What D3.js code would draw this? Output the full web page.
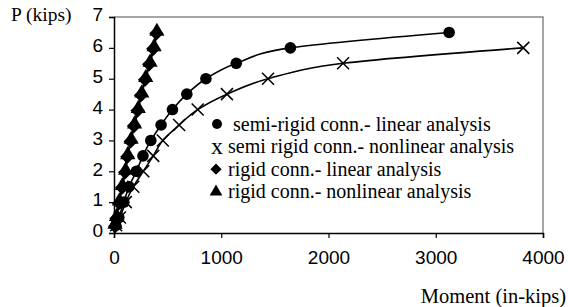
<!DOCTYPE html>
<html>
<head>
<meta charset="utf-8">
<script src="https://cdn.jsdelivr.net/npm/d3@7"></script>
<style>
  body { margin: 0; background: #fff; }
  svg { display: block; }
</style>
</head>
<body>
<div id="chart"></div>
<script>
// load steps (kips)
var loadSteps = [0.25, 0.5, 1, 1.5, 2, 2.5, 3, 3.5, 4, 4.5, 5, 5.5, 6, 6.5];

// moment (in-kips) for each series
var semiRigidLinear    = [16, 45, 92, 140, 208, 270, 343, 439, 545, 679, 857, 1140, 1645, 3125];
var semiRigidNonlinear = [20, 55, 110, 180, 273, 366, 455, 607, 780, 1053, 1436, 2136, 3816];
var rigidLinear        = [10, 23, 48, 75, 104, 124, 155, 186, 220, 252, 290, 328, 366, 395];
var rigidNonlinear     = [10, 24, 50, 78, 108, 128, 160, 192, 226, 259, 296, 336, 374, 400];

var seriesNames = [
  "semi-rigid conn.- linear analysis",
  "semi rigid conn.- nonlinear analysis",
  "rigid conn.- linear analysis",
  "rigid conn.- nonlinear analysis"
];

var xTicks = [0, 1000, 2000, 3000, 4000];
var yTicks = [0, 1, 2, 3, 4, 5, 6, 7];

//Set-up canvas
var svgWidth = 568;
var svgHeight = 307;
var margin = { top: 17, left: 114, right: 25, bottom: 74 };
var width = 543 - margin.left;
var height = 233 - margin.top;

var svg = d3.select("#chart")
  .append("svg")
  .attr("width", svgWidth)
  .attr("height", svgHeight);

var chartGroup = svg.append("g")
  .attr("transform", `translate(${margin.left}, ${margin.top})`);

var xScale = d3.scaleLinear().domain([0, 4000]).range([0, width]);
var yScale = d3.scaleLinear().domain([0, 7]).range([height, 0]);

// frame (top and right in grey)
chartGroup.append("path")
  .attr("d", `M0,0H${width}V${height}`)
  .attr("fill", "none")
  .attr("stroke", "#888")
  .attr("stroke-width", 1.5);

var bottomAxis = d3.axisBottom(xScale).tickValues(xTicks).tickFormat(d3.format("d"))
  .tickSize(5).tickPadding(13);
var leftAxis = d3.axisLeft(yScale).tickValues(yTicks).tickFormat(d3.format("d"))
  .tickSize(5).tickPadding(6);

var xAxis = chartGroup.append("g")
  .attr("transform", `translate(0, ${height})`)
  .call(bottomAxis);

var yAxis = chartGroup.append("g")
  .call(leftAxis);

[xAxis, yAxis].forEach(function(ax) {
  ax.select(".domain").attr("stroke", "#000").attr("stroke-width", 1.5);
  ax.selectAll(".tick line").attr("stroke", "#000").attr("stroke-width", 1.2);
  ax.selectAll(".tick text")
    .style("font-family", "'Liberation Sans', Arial, sans-serif")
    .style("font-size", "19px")
    .attr("fill", "#000");
});
yAxis.selectAll(".tick text").attr("dy", "0.2em");

function pointsOf(moments) {
  return moments.map(function(m, i) { return { m: m, p: loadSteps[i] }; });
}

var line = d3.line()
  .x(d => xScale(d.m))
  .y(d => yScale(d.p))
  .curve(d3.curveCardinal.tension(0));

var allSeries = [semiRigidLinear, semiRigidNonlinear, rigidLinear, rigidNonlinear];
allSeries.forEach(function(s) {
  chartGroup.append("path")
    .datum(pointsOf(s))
    .attr("d", line)
    .attr("fill", "none")
    .attr("stroke", "#000")
    .attr("stroke-width", 1.6);
});

// markers
chartGroup.selectAll()
  .data(pointsOf(semiRigidLinear))
  .enter()
  .append("circle")
  .attr("cx", d => xScale(d.m))
  .attr("cy", d => yScale(d.p))
  .attr("r", 5.8)
  .attr("fill", "#000");

chartGroup.selectAll()
  .data(pointsOf(semiRigidNonlinear))
  .enter()
  .append("path")
  .attr("transform", d => `translate(${xScale(d.m)}, ${yScale(d.p)})`)
  .attr("d", "M-6,-6L6,6M-6,6L6,-6")
  .attr("stroke", "#000")
  .attr("stroke-width", 1.5)
  .attr("fill", "none");

var diamond = d3.symbol().type(d3.symbolDiamond2).size(130);
chartGroup.selectAll()
  .data(pointsOf(rigidLinear))
  .enter()
  .append("path")
  .attr("transform", d => `translate(${xScale(d.m)}, ${yScale(d.p) + 1})`)
  .attr("d", diamond)
  .attr("fill", "#000");

var triangle = d3.symbol().type(d3.symbolTriangle).size(100);
chartGroup.selectAll()
  .data(pointsOf(rigidNonlinear))
  .enter()
  .append("path")
  .attr("transform", d => `translate(${xScale(d.m)}, ${yScale(d.p) - 1})`)
  .attr("d", triangle)
  .attr("fill", "#000");

// legend
var legendGroup = svg.append("g")
  .attr("transform", "translate(216, 124)");

var serif = "'Liberation Serif', 'Times New Roman', serif";

seriesNames.forEach(function(name, i) {
  var row = legendGroup.append("g")
    .attr("transform", `translate(0, ${i * 22.6})`);
  if (i === 0) {
    row.append("circle").attr("cx", 1).attr("r", 5).attr("fill", "#000");
  } else if (i === 1) {
    row.append("text")
      .attr("x", 1).attr("y", 7)
      .attr("text-anchor", "middle")
      .style("font-family", serif)
      .style("font-size", "24px")
      .text("x");
  } else if (i === 2) {
    row.append("path").attr("d", d3.symbol().type(d3.symbolDiamond2).size(80)).attr("fill", "#000");
  } else {
    row.append("path").attr("d", d3.symbol().type(d3.symbolTriangle).size(70)).attr("fill", "#000");
  }
  row.append("text")
    .attr("x", i === 0 ? 17 : 12)
    .attr("y", 6.5)
    .style("font-family", serif)
    .style("font-size", "20px")
    .attr("fill", "#000")
    .text(name);
});

// axis titles
svg.append("text")
  .attr("x", 11)
  .attr("y", 21)
  .style("font-family", serif)
  .style("font-size", "19.5px")
  .text("P (kips)");

svg.append("text")
  .attr("x", 566)
  .attr("y", 303)
  .attr("text-anchor", "end")
  .style("font-family", serif)
  .style("font-size", "20.5px")
  .text("Moment (in-kips)");
</script>
</body>
</html>
